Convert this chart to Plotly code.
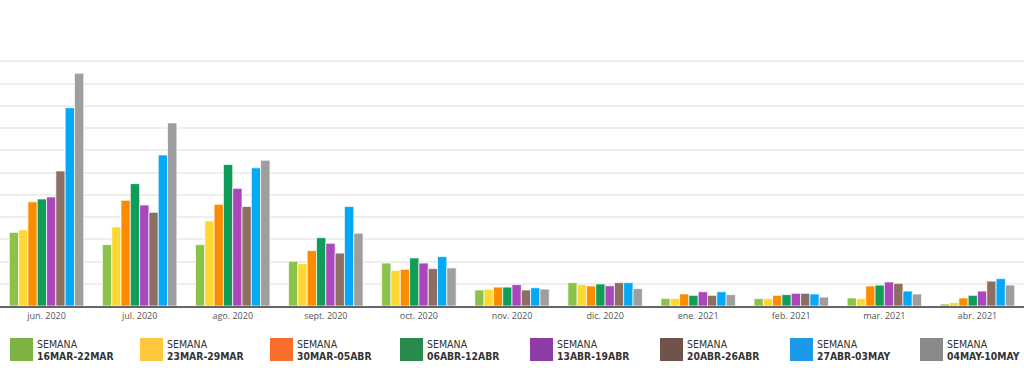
import plotly.graph_objects as go

months = ["jun. 2020", "jul. 2020", "ago. 2020", "sept. 2020", "oct. 2020", "nov. 2020",
          "dic. 2020", "ene. 2021", "feb. 2021", "mar. 2021", "abr. 2021"]

week_labels = ["16MAR-22MAR", "23MAR-29MAR", "30MAR-05ABR", "06ABR-12ABR",
               "13ABR-19ABR", "20ABR-26ABR", "27ABR-03MAY", "04MAY-10MAY"]

s_16mar = [3.31, 2.76, 2.76, 2.01, 1.93, 0.72, 1.05, 0.34, 0.33, 0.36, 0.09]
s_23mar = [3.42, 3.55, 3.82, 1.90, 1.60, 0.75, 0.96, 0.34, 0.33, 0.33, 0.16]
s_30mar = [4.68, 4.75, 4.57, 2.49, 1.65, 0.85, 0.90, 0.54, 0.48, 0.90, 0.36]
s_06abr = [4.81, 5.50, 6.36, 3.07, 2.16, 0.85, 0.99, 0.48, 0.51, 0.94, 0.48]
s_13abr = [4.90, 4.54, 5.29, 2.82, 1.93, 0.96, 0.91, 0.64, 0.57, 1.08, 0.67]
s_20abr = [6.07, 4.21, 4.47, 2.38, 1.68, 0.72, 1.05, 0.48, 0.57, 1.02, 1.12]
s_27abr = [8.91, 6.79, 6.21, 4.47, 2.22, 0.82, 1.05, 0.64, 0.54, 0.67, 1.23]
s_04may = [10.46, 8.23, 6.55, 3.27, 1.71, 0.76, 0.78, 0.51, 0.40, 0.54, 0.94]

series = [s_16mar, s_23mar, s_30mar, s_06abr, s_13abr, s_20abr, s_27abr, s_04may]

bar_colors = ["#8bc34a", "#fdd835", "#fb8c00", "#0f9d58", "#ab47bc", "#8d6e63", "#03a9f4", "#9e9e9e"]
legend_colors = ["#7cb342", "#fdc83e", "#f96e2a", "#288a4c", "#8e3aa7", "#70534a", "#1e98e8", "#8a8a8a"]

W, H = 1024, 380
top, bottom = 39, 306
plot_h = bottom - top
LEG_FONT = "DejaVu Sans Condensed, Liberation Sans Narrow, sans-serif"

fig = go.Figure()
for vals, lab, col in zip(series, week_labels, bar_colors):
    fig.add_trace(go.Bar(
        x=months, y=vals, name="SEMANA " + lab,
        marker=dict(color=col, line=dict(color="rgba(255,255,255,0.7)", width=1)),
        showlegend=False,
    ))

# custom legend
def py(p):
    return (bottom - p) / plot_h

shapes = []
annotations = []
for i, (lab, col) in enumerate(zip(week_labels, legend_colors)):
    x0 = 10 + 130 * i
    shapes.append(dict(type="rect", xref="paper", yref="paper",
                       x0=x0 / W, x1=(x0 + 23) / W, y0=py(361), y1=py(338),
                       fillcolor=col, line=dict(width=0)))
    annotations.append(dict(xref="paper", yref="paper", x=(x0 + 25) / W, y=py(343.5),
                            xanchor="left", yanchor="middle", showarrow=False,
                            text="SEMANA",
                            font=dict(family=LEG_FONT, size=10.5, color="#333333")))
    annotations.append(dict(xref="paper", yref="paper", x=(x0 + 25) / W, y=py(356),
                            xanchor="left", yanchor="middle", showarrow=False,
                            text="<b>" + lab + "</b>",
                            font=dict(family=LEG_FONT, size=10.3, color="#333333")))

fig.update_layout(
    width=W, height=H,
    margin=dict(l=0, r=0, t=top, b=H - bottom),
    paper_bgcolor="white", plot_bgcolor="white",
    barmode="group", bargap=0.2, bargroupgap=0,
    shapes=shapes, annotations=annotations,
    xaxis=dict(showline=True, linecolor="#666666", linewidth=1.5, ticks="",
               tickfont=dict(family="Open Sans, sans-serif", size=9, color="#555555"),
               showgrid=False, fixedrange=True),
    yaxis=dict(range=[0, 12], dtick=1, showticklabels=False, showgrid=True,
               gridcolor="#eeeeee", gridwidth=1.5, zeroline=False, fixedrange=True),
)

fig.write_html("out.html", config={"displayModeBar": False},
               post_script="document.body.style.margin='0';document.body.style.padding='0';")
